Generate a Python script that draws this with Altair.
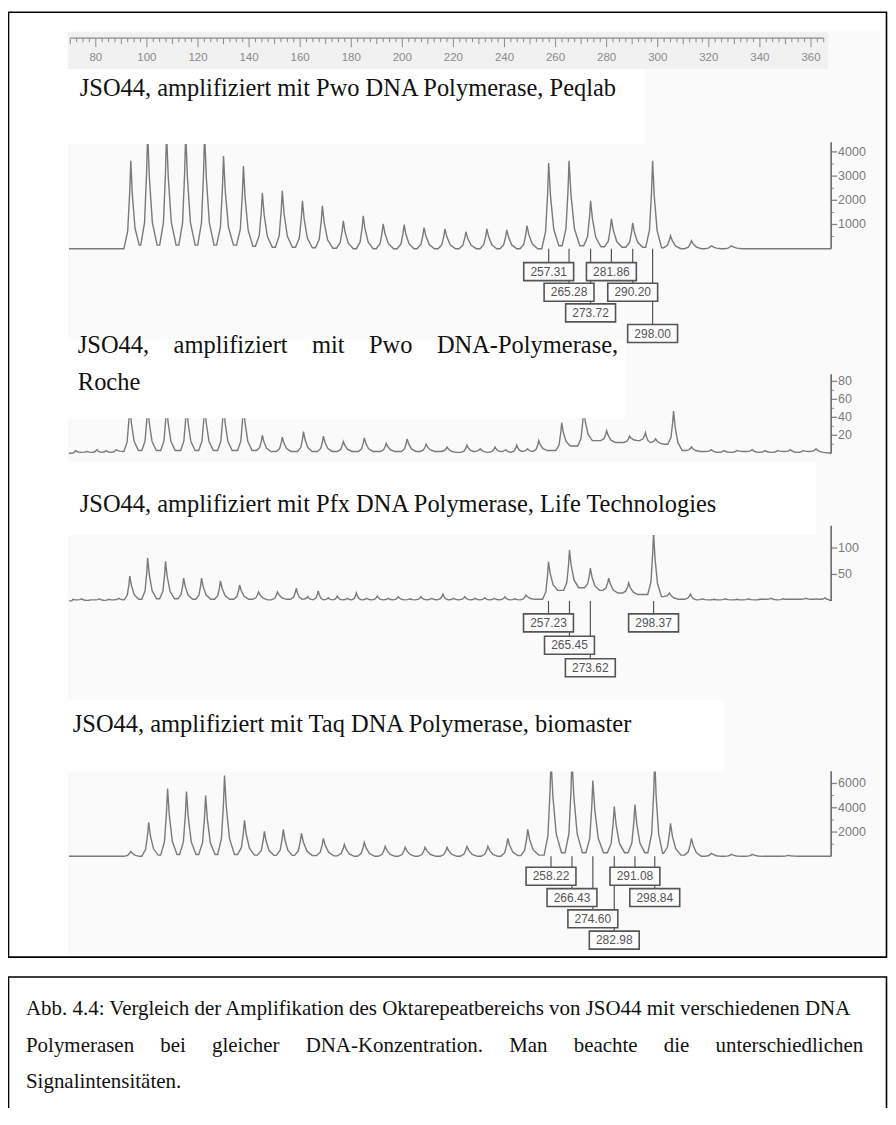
import altair as alt
import pandas as pd

# ------------------------------------------------------------------ data
RULER_LABELS = [80, 100, 120, 140, 160, 180, 200, 220, 240, 260, 280, 300, 320, 340, 360]
RULER_TICKS = [70 + 2.5 * i for i in range(119)]

TRACE_START, TRACE_END = 69.5, 367.9

# Panel 1: Pwo, Peqlab
P1_PEAKS = [93.7, 100.3, 107.7, 115.2, 122.6, 130.0, 137.8, 145.2, 153.0, 160.9, 168.7,
            176.9, 184.7, 192.5, 200.7, 208.5, 216.7, 224.9, 233.1, 240.9, 248.8,
            257.31, 265.28, 273.72, 281.86, 290.20, 298.00, 305.0, 313.2, 321.0, 328.8]
P1_HEIGHTS = [3630, 4800, 4800, 4800, 4800, 3830, 3420, 2310, 2390, 1980, 1770,
              1150, 1360, 1030, 990, 870, 820, 700, 820, 780, 950,
              3540, 3630, 1980, 1240, 1070, 3630, 540, 330, 120, 120]
P1_VALLEYS = [150, 150, 150, 150, 150, 150, 100, 60, 60, 40, 20,
              0, 0, 0, 0, 0, 0, 0, 0, 0, 0,
              120, 120, 80, 60, 60, 40, 0, 0, 0, 0]
P1_AXIS = [1000, 2000, 3000, 4000]
P1_AXIS_MINOR = [500, 1500, 2500, 3500]
P1_AXIS_TOP = 4400
P1_LABELS = [257.31, 281.86, 265.28, 290.20, 273.72, 298.00]
P1_LABEL_ROWS = [0, 0, 1, 1, 2, 3]

# Panel 2: Pwo, Roche
P2_PEAKS = [72.0, 76.5, 80.5, 84.0, 88.0,
            93.3, 100.3, 107.7, 115.5, 122.6, 130.0, 137.8,
            145.2, 153.0, 161.3, 169.1, 176.9, 185.1, 193.7, 201.9, 209.3, 217.5,
            225.3, 230.5, 236.3, 240.5, 244.8, 249.0, 253.4,
            262.4, 271.0, 280.0, 289.0, 295.2, 299.1, 306.2, 313.2,
            321.0, 326.0, 331.0, 337.0, 342.0, 347.0, 352.0, 357.0, 362.0]
P2_HEIGHTS = [3, 2, 4, 3, 4,
              55, 55, 55, 55, 55, 55, 55,
              20, 18, 24, 19, 13, 17, 11, 16, 10, 7,
              9, 5, 7, 4, 9, 5, 14,
              34, 50, 25, 19, 23, 16, 47, 7,
              4, 3, 3, 4, 3, 3, 4, 3, 5]
P2_VALLEYS = [1, 1, 1, 1, 2,
              3, 3, 3, 3, 3, 3, 3,
              2, 2, 2, 2, 2, 2, 2, 2, 2, 1,
              2, 1, 2, 1, 2, 2, 3,
              8, 14, 12, 14, 12, 10, 3, 2,
              1, 1, 2, 1, 1, 2, 1, 2, 1]
P2_AXIS = [20, 40, 60, 80]
P2_AXIS_MINOR = [10, 30, 50, 70]
P2_AXIS_TOP = 88

# Panel 3: Pfx, Life Technologies
P3_PEAKS = [71.0, 74.5, 78.0, 81.5, 85.0, 89.0,
            93.3, 100.3, 107.3, 114.4, 121.4, 128.8, 136.3, 143.7, 151.1, 158.5,
            163.0, 167.1, 171.0, 174.5, 178.5, 182.0, 186.0, 190.2, 194.5, 198.4,
            203.0, 207.3, 211.5, 215.9, 220.0, 224.5, 228.5, 232.3, 236.0, 240.2,
            244.0, 248.4,
            257.23, 265.45, 273.62, 280.8, 288.6, 298.37, 304.6, 312.8,
            317.5, 322.0, 326.5, 331.0, 335.5, 340.0, 344.5, 349.0, 353.5, 358.0, 362.0, 365.5]
P3_HEIGHTS = [3, 4, 2, 4, 3, 5,
              47, 81, 75, 43, 43, 38, 30, 17, 17, 24,
              8, 19, 6, 9, 5, 15, 5, 9, 5, 8,
              4, 8, 5, 13, 5, 8, 5, 6, 5, 8,
              4, 11,
              74, 96, 62, 43, 34, 130, 15, 13,
              4, 3, 4, 3, 4, 3, 5, 4, 3, 5, 4, 6]
P3_VALLEYS = [2, 1, 2, 1, 2, 2,
              3, 4, 4, 3, 3, 3, 3, 2, 3, 3,
              2, 2, 2, 2, 2, 2, 2, 2, 2, 2,
              2, 2, 2, 2, 2, 2, 2, 2, 2, 2,
              2, 3,
              20, 25, 20, 15, 12, 8, 3, 2,
              2, 2, 2, 2, 2, 3, 2, 3, 3, 3, 3, 3]
P3_AXIS = [50, 100]
P3_AXIS_MINOR = []
P3_AXIS_TOP = 142
P3_LABELS = [257.23, 298.37, 265.45, 273.62]
P3_LABEL_ROWS = [0, 0, 1, 2]

# Panel 4: Taq, biomaster
P4_PEAKS = [93.7, 100.7, 108.1, 115.5, 123.0, 130.4, 138.2, 146.0, 153.4, 160.5,
            169.1, 177.3, 185.1, 193.3, 201.1, 208.9, 217.5, 225.3, 233.5, 241.3, 249.1,
            258.22, 266.43, 274.60, 282.98, 291.08, 298.84, 305.0, 313.2, 321.0, 328.8,
            337.0, 351.1]
P4_HEIGHTS = [410, 2790, 5590, 5340, 5010, 6660, 2960, 2050, 2220, 1900,
              1480, 990, 1150, 820, 740, 740, 740, 820, 820, 1480, 2220,
              8000, 8000, 6240, 4110, 4270, 8000, 2710, 1480, 250, 160,
              160, 80]
P4_VALLEYS = [0, 100, 150, 150, 150, 150, 100, 80, 80, 60,
              40, 0, 0, 0, 0, 0, 0, 0, 0, 60, 100,
              300, 300, 300, 300, 300, 250, 100, 0, 0, 0,
              0, 0]
P4_AXIS = [2000, 4000, 6000]
P4_AXIS_MINOR = [1000, 3000, 5000]
P4_AXIS_TOP = 7000
P4_LABELS = [258.22, 291.08, 266.43, 298.84, 274.60, 282.98]
P4_LABEL_ROWS = [0, 0, 1, 1, 2, 3]

TITLE_1 = "JSO44, amplifiziert mit Pwo DNA Polymerase, Peqlab"
TITLE_2_WORDS = ["JSO44,", "amplifiziert", "mit", "Pwo", "DNA-Polymerase,"]
TITLE_2B = "Roche"
TITLE_3 = "JSO44, amplifiziert mit Pfx DNA Polymerase, Life Technologies"
TITLE_4 = "JSO44, amplifiziert mit Taq DNA Polymerase, biomaster"
CAPTION_1 = "Abb. 4.4: Vergleich der Amplifikation des Oktarepeatbereichs von JSO44 mit verschiedenen DNA"
CAPTION_2_WORDS = ["Polymerasen", "bei", "gleicher", "DNA-Konzentration.", "Man",
                   "beachte", "die", "unterschiedlichen"]
CAPTION_3 = "Signalintensitäten."

# ------------------------------------------------------------------ layout / style
W, H = 882, 1100
MARGIN = 8
PX_PER_BP = 2.56
X0 = 80 - (96 - MARGIN) / PX_PER_BP
XS = alt.Scale(domain=[X0, X0 + W / PX_PER_BP], nice=False, zero=False)
SERIF = "Liberation Serif"
SANS = "Liberation Sans"
TRACE_COLOR = "#7a7a7a"
AXIS_X = 833
TITLE_SIZE = 24.5
ONE = pd.DataFrame({"k": [0]})


def cx(v):
    return v - MARGIN


def cy(v):
    return v - MARGIN


def trace_frame(peaks, heights, valleys, wl, wr):
    pts = [(TRACE_START, 0.0)]
    n = len(peaks)
    for i, (p, h) in enumerate(zip(peaks, heights)):
        vl = valleys[i - 1] if i > 0 else 0
        vr = valleys[i]
        prev = peaks[i - 1] if i > 0 else TRACE_START
        nxt = peaks[i + 1] if i < n - 1 else TRACE_END
        lf = max(p - wl, (prev + p) / 2)
        rf = min(p + wr, (p + nxt) / 2)
        dl, dr = p - lf, rf - p
        pts += [(lf, vl),
                (p - dl * 0.45, vl + (h - vl) * 0.2),
                (p - dl * 0.15, vl + (h - vl) * 0.65),
                (p, h),
                (p + dr * 0.18, vr + (h - vr) * 0.6),
                (p + dr * 0.5, vr + (h - vr) * 0.2),
                (rf, vr)]
    pts.append((TRACE_END, 0.0))
    return pd.DataFrame(pts, columns=["bp", "v"])


def text_layer(text, x, y, size, font=SERIF, color="#111111", align="left"):
    return alt.Chart(ONE).mark_text(
        text=text, font=font, fontSize=size, align=align, baseline="middle", color=color
    ).encode(x=alt.value(cx(x)), y=alt.value(cy(y)))


def rect_layer(x0, y0, x1, y1, fill):
    return alt.Chart(ONE).mark_rect(fill=fill).encode(
        x=alt.value(cx(x0)), x2=alt.value(cx(x1)), y=alt.value(cy(y0)), y2=alt.value(cy(y1)))


def panel(peaks, heights, valleys, major, minor, top, y0, yref, wl, wr,
          labels=None, rows=None, row_y=None):
    ys = alt.Scale(domain=[0, yref[0]], range=[cy(y0), cy(yref[1])], nice=False, zero=False)
    df = trace_frame(peaks, heights, valleys, wl, wr)
    line = alt.Chart(df).mark_line(color=TRACE_COLOR, strokeWidth=1.4).encode(
        x=alt.X("bp:Q", scale=XS, axis=None), y=alt.Y("v:Q", scale=ys, axis=None))
    ax = alt.Chart(pd.DataFrame({"a": [0], "b": [top]})).mark_rule(
        color="#555555", strokeWidth=1.4).encode(
        x=alt.value(cx(AXIS_X)), y=alt.Y("a:Q", scale=ys, axis=None), y2="b:Q")
    tk = alt.Chart(pd.DataFrame({"t": major})).mark_tick(
        orient="horizontal", size=6, thickness=1.3, color="#555555", xOffset=3).encode(
        x=alt.value(cx(AXIS_X)), y=alt.Y("t:Q", scale=ys, axis=None))
    layers = [line, ax, tk]
    if minor:
        mtk = alt.Chart(pd.DataFrame({"t": minor})).mark_tick(
            orient="horizontal", size=3, thickness=1, color="#666666", xOffset=1.5).encode(
            x=alt.value(cx(AXIS_X)), y=alt.Y("t:Q", scale=ys, axis=None))
        layers.append(mtk)
    lab = alt.Chart(pd.DataFrame({"t": major, "s": [str(m) for m in major]})).mark_text(
        font=SANS, fontSize=12.5, color="#7a7a7a", align="left", baseline="middle", dx=7).encode(
        x=alt.value(cx(AXIS_X)), y=alt.Y("t:Q", scale=ys, axis=None), text="s:N")
    layers.append(lab)
    trace_group = alt.layer(*layers)
    if not labels:
        return trace_group
    nrow = max(rows)
    rs = alt.Scale(domain=[0, nrow], range=[cy(row_y[0]), cy(row_y[1])], nice=False, zero=False)
    ldf = pd.DataFrame({"bp": labels, "row": rows, "s": [f"{v:.2f}" for v in labels]})
    conn = alt.Chart(ldf).mark_rule(color="#555555", strokeWidth=1.2).encode(
        x=alt.X("bp:Q", scale=XS, axis=None),
        y=alt.Y("row:Q", scale=rs, axis=None), y2=alt.value(cy(y0)))
    box = alt.Chart(ldf).mark_point(
        shape="M-1,-0.36L1,-0.36L1,0.36L-1,0.36Z", size=2500, filled=True,
        fill="#fcfcfc", fillOpacity=1, stroke="#555555", strokeWidth=1.6, opacity=1).encode(
        x=alt.X("bp:Q", scale=XS, axis=None), y=alt.Y("row:Q", scale=rs, axis=None))
    btxt = alt.Chart(ldf).mark_text(font=SANS, fontSize=12, color="#555555",
                                    baseline="middle").encode(
        x=alt.X("bp:Q", scale=XS, axis=None), y=alt.Y("row:Q", scale=rs, axis=None), text="s:N")
    label_group = alt.layer(conn, box, btxt)
    return alt.layer(trace_group, label_group).resolve_scale(y="independent")


# ------------------------------------------------------------------ build
background = [
    rect_layer(68, 30, 882, 955, "#fafafa"),
    rect_layer(68, 31, 830, 68, "#f1f1f1"),
]


def ruler_tick_layer(vals, length):
    return alt.Chart(pd.DataFrame({"bp": vals})).mark_rule(color="#8a8a8a", strokeWidth=1).encode(
        x=alt.X("bp:Q", scale=XS, axis=None), y=alt.value(cy(37)), y2=alt.value(cy(37 + length)))


major_t = [t for t in RULER_TICKS if t % 20 == 0]
mid_t = [t for t in RULER_TICKS if t % 10 == 0 and t % 20 != 0]
small_t = [t for t in RULER_TICKS if t % 10 != 0]
ruler = [
    alt.Chart(pd.DataFrame({"a": [RULER_TICKS[0]], "b": [RULER_TICKS[-1]]})).mark_rule(
        color="#8a8a8a", strokeWidth=1.2).encode(
        x=alt.X("a:Q", scale=XS, axis=None), x2="b:Q", y=alt.value(cy(37))),
    ruler_tick_layer(small_t, 4),
    ruler_tick_layer(mid_t, 6),
    ruler_tick_layer(major_t, 9),
    alt.Chart(pd.DataFrame({"bp": RULER_LABELS, "s": [str(v) for v in RULER_LABELS]})).mark_text(
        font=SANS, fontSize=11.5, color="#8a8a8a", baseline="middle").encode(
        x=alt.X("bp:Q", scale=XS, axis=None), y=alt.value(cy(57)), text="s:N"),
]

p1 = panel(P1_PEAKS, P1_HEIGHTS, P1_VALLEYS, P1_AXIS, P1_AXIS_MINOR, P1_AXIS_TOP,
           y0=248, yref=(4000, 151), wl=2.7, wr=4.3,
           labels=P1_LABELS, rows=P1_LABEL_ROWS, row_y=(271, 333))
p2 = panel(P2_PEAKS, P2_HEIGHTS, P2_VALLEYS, P2_AXIS, P2_AXIS_MINOR, P2_AXIS_TOP,
           y0=453, yref=(80, 381), wl=2.3, wr=3.4)
p3 = panel(P3_PEAKS, P3_HEIGHTS, P3_VALLEYS, P3_AXIS, P3_AXIS_MINOR, P3_AXIS_TOP,
           y0=601, yref=(100, 548), wl=2.3, wr=3.6, labels=P3_LABELS, rows=P3_LABEL_ROWS,
           row_y=(623, 668))
p4 = panel(P4_PEAKS, P4_HEIGHTS, P4_VALLEYS, P4_AXIS, P4_AXIS_MINOR, P4_AXIS_TOP,
           y0=857, yref=(6000, 784), wl=2.7, wr=4.3,
           labels=P4_LABELS, rows=P4_LABEL_ROWS, row_y=(877, 941))

gap_t = "\u00a0" * 4
gap_c = "\u00a0" * 5
titles = [
    rect_layer(68, 68, 647, 143, "#ffffff"),
    rect_layer(68, 339, 626, 418, "#ffffff"),
    rect_layer(68, 462, 818, 535, "#ffffff"),
    rect_layer(68, 700, 726, 772, "#ffffff"),
    text_layer(TITLE_1, 80, 88, TITLE_SIZE),
    text_layer(gap_t.join(TITLE_2_WORDS), 78, 346, TITLE_SIZE),
    text_layer(TITLE_2B, 78, 383, TITLE_SIZE),
    text_layer(TITLE_3, 80, 505, TITLE_SIZE),
    text_layer(TITLE_4, 73, 725, TITLE_SIZE),
]

frame = [
    alt.Chart(ONE).mark_rect(fill="transparent", stroke="#000000", strokeWidth=1.6).encode(
        x=alt.value(cx(8.5)), x2=alt.value(cx(888.5)), y=alt.value(cy(11)), y2=alt.value(cy(958))),
    alt.Chart(ONE).mark_rect(fill="transparent", stroke="#000000", strokeWidth=1.6).encode(
        x=alt.value(cx(8.5)), x2=alt.value(cx(888.5)), y=alt.value(cy(978)), y2=alt.value(cy(1140))),
    text_layer(CAPTION_1, 26, 1010, 21),
    text_layer(gap_c.join(CAPTION_2_WORDS), 26, 1047, 21),
    text_layer(CAPTION_3, 26, 1083, 21),
]

chart = alt.layer(*background, *ruler, p1, p2, p3, p4, *titles, *frame).resolve_scale(
    y="independent"
).properties(
    width=W, height=H, padding=0, autosize=alt.AutoSizeParams(type="none"),
    background="#ffffff",
).configure_view(stroke=None)

chart.save("out.html", embed_options={"renderer": "svg", "actions": False})
